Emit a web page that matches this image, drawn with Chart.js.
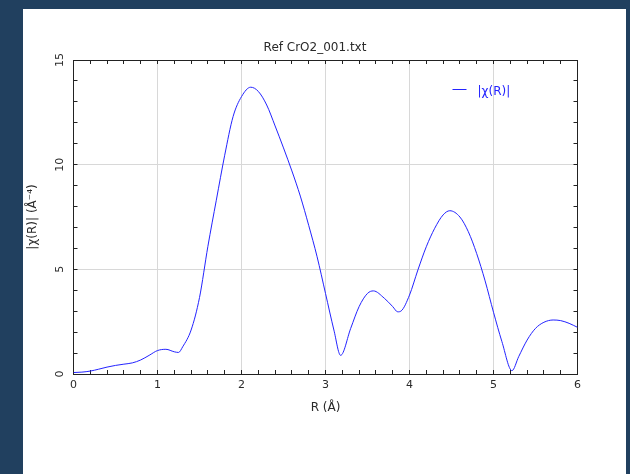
<!DOCTYPE html>
<html>
<head>
<meta charset="utf-8">
<script src="https://cdn.jsdelivr.net/npm/chart.js@4.4.1/dist/chart.umd.min.js"></script>
<style>
body { margin: 0; background: #21405f; }
#panel { position: absolute; left: 23px; top: 9px; width: 603px; height: 465px; background: #fff; }
#chart { position: absolute; left: 0; top: 0; }
</style>
</head>
<body>
<div id="panel"></div>
<canvas id="chart" width="630" height="474"></canvas>
<script>
// R in angstrom, |chi(R)|
var rValues = [0, 0.1, 0.2, 0.3, 0.4, 0.5, 0.6, 0.7, 0.8, 0.9, 1.0, 1.1, 1.2, 1.25, 1.3, 1.4, 1.5, 1.6, 1.7, 1.8, 1.9, 2.0, 2.11, 2.2, 2.3, 2.4, 2.5, 2.6, 2.7, 2.8, 2.9, 3.0, 3.1, 3.18, 3.3, 3.4, 3.5, 3.57, 3.7, 3.8, 3.86, 3.9, 4.0, 4.1, 4.2, 4.3, 4.4, 4.48, 4.6, 4.7, 4.8, 4.9, 5.0, 5.1, 5.22, 5.3, 5.4, 5.5, 5.6, 5.71, 5.8, 5.9, 6.0];
var chiValues = [0.07, 0.09, 0.14, 0.23, 0.33, 0.41, 0.47, 0.53, 0.67, 0.89, 1.12, 1.18, 1.06, 1.03, 1.3, 2.1, 3.65, 6.1, 8.3, 10.45, 12.3, 13.25, 13.7, 13.5, 12.85, 11.85, 10.8, 9.7, 8.5, 7.1, 5.6, 3.85, 2.1, 0.89, 2.18, 3.22, 3.85, 3.97, 3.62, 3.22, 2.97, 3.01, 3.77, 4.97, 6.08, 6.96, 7.6, 7.8, 7.5, 6.8, 5.75, 4.45, 2.95, 1.55, 0.16, 0.83, 1.62, 2.18, 2.47, 2.58, 2.55, 2.42, 2.23];

var titleText = 'Ref CrO2_001.txt';
var seriesLabel = '|χ(R)|';
var xTitle = 'R (Å)';
var yTitle = '|χ(R)| (Å⁻⁴)';

var points = [];
for (let i = 0; i < rValues.length; i++) {
    points.push({x: rValues[i], y: chiValues[i]});
}

function isWhole(v) { return Math.abs(v - Math.round(v)) < 1e-6; }

var tickFont = {family: 'DejaVu Sans', size: 11};
var textColor = '#2a2a2a';
var axisColor = '#222';
var gridColor = '#d8d8d8';

// legend drawn inside the plot, top right
const insideLegend = {
    id: 'insideLegend',
    afterDraw(chart) {
        const ds = chart.data.datasets[0];
        const ctx = chart.ctx;
        const area = chart.chartArea;
        const y = area.top + 32;
        ctx.save();
        ctx.strokeStyle = ds.borderColor;
        ctx.lineWidth = 1;
        ctx.beginPath();
        ctx.moveTo(area.right - 125, y - 2.5);
        ctx.lineTo(area.right - 111, y - 2.5);
        ctx.stroke();
        ctx.fillStyle = ds.borderColor;
        ctx.font = '12px "DejaVu Sans"';
        ctx.textBaseline = 'middle';
        ctx.fillText(ds.label, area.right - 100, y);
        ctx.restore();
    }
};

const config = {
    type: 'line',
    data: {
        datasets: [{
            label: seriesLabel,
            data: points,
            borderColor: 'rgb(35,35,255)',
            borderWidth: 1,
            pointRadius: 0,
            fill: false,
            cubicInterpolationMode: 'monotone'
        }]
    },
    options: {
        responsive: false,
        animation: false,
        layout: {padding: {left: 0, right: 0, top: 0, bottom: 55}},
        plugins: {
            legend: {display: false},
            tooltip: {enabled: false},
            title: {
                display: true,
                text: titleText,
                color: textColor,
                font: {family: 'DejaVu Sans', size: 12, weight: 'normal'},
                padding: {top: 41, bottom: 0}
            }
        },
        scales: {
            x: {
                type: 'linear',
                position: 'bottom',
                min: 0,
                max: 6,
                ticks: {
                    stepSize: 0.2,
                    autoSkip: false,
                    maxRotation: 0,
                    padding: 9,
                    color: textColor,
                    font: tickFont,
                    callback: v => isWhole(v) ? String(Math.round(v)) : ''
                },
                grid: {
                    color: c => isWhole(c.tick.value) ? gridColor : 'rgba(0,0,0,0)',
                    tickColor: axisColor,
                    tickLength: -4
                },
                border: {color: axisColor, width: 1},
                title: {display: true, text: xTitle, color: textColor, font: {family: 'DejaVu Sans', size: 12}, padding: 4},
                afterFit: s => { s.height = 45; }
            },
            x2: {
                type: 'linear',
                position: 'top',
                min: 0,
                max: 6,
                ticks: {stepSize: 0.2, autoSkip: false, display: false},
                grid: {drawOnChartArea: false, tickColor: axisColor, tickLength: -4},
                border: {color: axisColor, width: 1},
                afterFit: s => { s.height = 4.6; }
            },
            y: {
                type: 'linear',
                position: 'left',
                min: 0,
                max: 15,
                ticks: {
                    stepSize: 1,
                    autoSkip: false,
                    minRotation: 90,
                    maxRotation: 90,
                    crossAlign: 'center',
                    padding: 10,
                    color: textColor,
                    font: tickFont,
                    callback: v => v % 5 === 0 ? String(v) : ''
                },
                grid: {
                    color: c => c.tick.value % 5 === 0 ? gridColor : 'rgba(0,0,0,0)',
                    tickColor: axisColor,
                    tickLength: -4
                },
                border: {color: axisColor, width: 1},
                title: {display: true, text: yTitle, color: textColor, font: {family: 'DejaVu Sans', size: 12}, padding: 26},
                afterFit: s => { s.width = 73.5; }
            },
            y2: {
                type: 'linear',
                position: 'right',
                min: 0,
                max: 15,
                ticks: {stepSize: 1, autoSkip: false, display: false},
                grid: {drawOnChartArea: false, tickColor: axisColor, tickLength: -4},
                border: {color: axisColor, width: 1},
                afterFit: s => { s.width = 52.5; }
            }
        }
    },
    plugins: [insideLegend]
};

const myChart = new Chart(document.getElementById('chart'), config);
</script>
</body>
</html>
